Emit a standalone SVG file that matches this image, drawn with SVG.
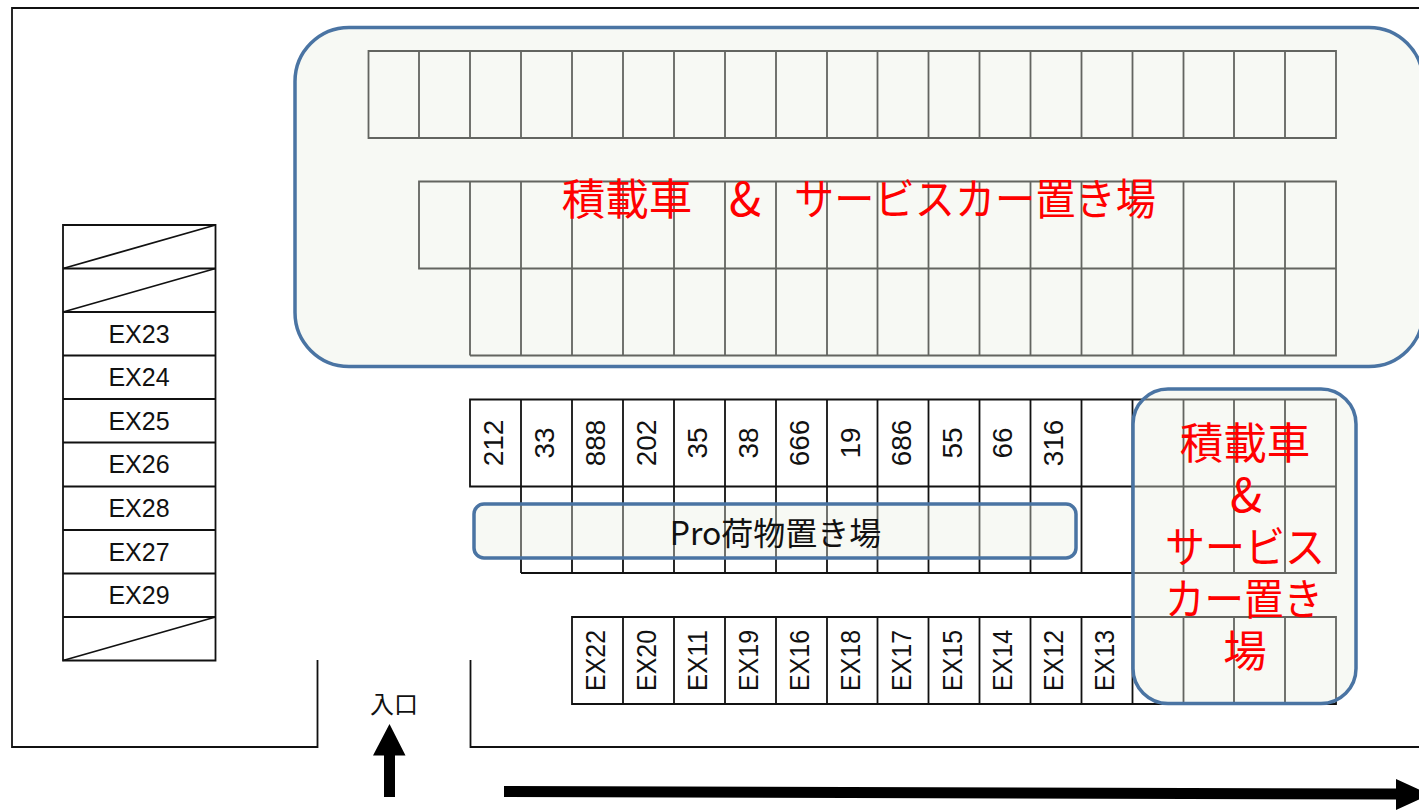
<svg xmlns="http://www.w3.org/2000/svg" width="1419" height="810" viewBox="0 0 1419 810">
<style>
text{font-family:"Noto Sans CJK JP","Liberation Sans",sans-serif;text-anchor:middle}
.ln{fill:none;stroke:#111;stroke-width:1.8}
.wall{fill:none;stroke:#111;stroke-width:1.8}
.zone{fill:#e9efe3;fill-opacity:.38;stroke:none}
.zb{fill:none;stroke:#4a74a3;stroke-width:3.500}
.lab text,.rot text{font-family:"Liberation Sans",sans-serif;fill:#111}
.lab text{font-size:25px}
.rot text{font-size:28px}
.red{fill:#f00;font-size:43.500px}
.amp{fill:#f00;font-size:47px}
</style>
<rect width="1419" height="810" fill="#fff"/>
<path id="walls" class="wall" d="M1419 8H12V747H317.500V660M470.500 660V747H1419"/>
<g id="grid" class="ln">
<path d="M368.500 51H1336V138H368.500Z M419 51V138M470 51V138M521 51V138M572 51V138M623 51V138M674 51V138M725 51V138M776 51V138M827 51V138M877.500 51V138M928.500 51V138M979.500 51V138M1030.500 51V138M1081.500 51V138M1132.500 51V138M1183.500 51V138M1234 51V138M1285 51V138"/>
<path d="M419 181.500H1336V268.500H419Z M470 181.500V355.500M521 181.500V355.500M572 181.500V355.500M623 181.500V355.500M674 181.500V355.500M725 181.500V355.500M776 181.500V355.500M827 181.500V355.500M877.500 181.500V355.500M928.500 181.500V355.500M979.500 181.500V355.500M1030.500 181.500V355.500M1081.500 181.500V355.500M1132.500 181.500V355.500M1183.500 181.500V355.500M1234 181.500V355.500M1285 181.500V355.500M470 355.500H1336V268.500"/>
<path d="M470 399.500H1336V486.500H470Z M521 399.500V573M572 399.500V573M623 399.500V573M674 399.500V573M725 399.500V573M776 399.500V573M827 399.500V573M877.500 399.500V573M928.500 399.500V573M979.500 399.500V573M1030.500 399.500V573M1081.500 399.500V573M1132.500 399.500V573M1183.500 399.500V573M1234 399.500V573M1285 399.500V573M521 573H1336V486.500"/>
<path d="M572 617H1336V704H572Z M623 617V704M674 617V704M725 617V704M776 617V704M827 617V704M877.500 617V704M928.500 617V704M979.500 617V704M1030.500 617V704M1081.500 617V704M1132.500 617V704M1183.500 617V704M1234 617V704M1285 617V704"/>
<path d="M63 225H215.500V660.500H63Z M63 268.500H215.500M63 312H215.500M63 355.500H215.500M63 399H215.500M63 442.500H215.500M63 486.500H215.500M63 530H215.500M63 573.500H215.500M63 617H215.500"/>
<path d="M63 268.500L215.500 225M63 312L215.500 268.500M63 660.500L215.500 617"/>
</g>
<g id="stalls-left" class="lab">
<text x="139" y="342.500">EX23</text>
<text x="139" y="386">EX24</text>
<text x="139" y="429.500">EX25</text>
<text x="139" y="473">EX26</text>
<text x="139" y="517">EX28</text>
<text x="139" y="560.500">EX27</text>
<text x="139" y="604">EX29</text>
</g>
<g id="stalls-numbers" class="rot">
<text transform="translate(503 443) rotate(-90)">212</text>
<text transform="translate(554 443) rotate(-90)">33</text>
<text transform="translate(605 443) rotate(-90)">888</text>
<text transform="translate(656 443) rotate(-90)">202</text>
<text transform="translate(707 443) rotate(-90)">35</text>
<text transform="translate(758 443) rotate(-90)">38</text>
<text transform="translate(809 443) rotate(-90)">666</text>
<text transform="translate(859.500 443) rotate(-90)">19</text>
<text transform="translate(910.500 443) rotate(-90)">686</text>
<text transform="translate(961.500 443) rotate(-90)">55</text>
<text transform="translate(1012 443) rotate(-90)">66</text>
<text transform="translate(1063 443) rotate(-90)">316</text>
</g>
<g id="stalls-ex" class="rot">
<text transform="translate(605 660.500) rotate(-90)" textLength="61" lengthAdjust="spacingAndGlyphs">EX22</text>
<text transform="translate(656 660.500) rotate(-90)" textLength="61" lengthAdjust="spacingAndGlyphs">EX20</text>
<text transform="translate(707 660.500) rotate(-90)" textLength="61" lengthAdjust="spacingAndGlyphs">EX11</text>
<text transform="translate(758 660.500) rotate(-90)" textLength="61" lengthAdjust="spacingAndGlyphs">EX19</text>
<text transform="translate(809 660.500) rotate(-90)" textLength="61" lengthAdjust="spacingAndGlyphs">EX16</text>
<text transform="translate(859.500 660.500) rotate(-90)" textLength="61" lengthAdjust="spacingAndGlyphs">EX18</text>
<text transform="translate(910.500 660.500) rotate(-90)" textLength="61" lengthAdjust="spacingAndGlyphs">EX17</text>
<text transform="translate(961.500 660.500) rotate(-90)" textLength="61" lengthAdjust="spacingAndGlyphs">EX15</text>
<text transform="translate(1012 660.500) rotate(-90)" textLength="61" lengthAdjust="spacingAndGlyphs">EX14</text>
<text transform="translate(1063 660.500) rotate(-90)" textLength="61" lengthAdjust="spacingAndGlyphs">EX12</text>
<text transform="translate(1114 660.500) rotate(-90)" textLength="61" lengthAdjust="spacingAndGlyphs">EX13</text>
</g>
<g id="zone-top">
<rect class="zone" x="295" y="27.500" width="1128" height="339" rx="54"/>
<rect class="zb" x="295" y="27.500" width="1128" height="339" rx="54"/>
<text class="red" x="627" y="215">積載車</text>
<text class="amp" x="745" y="216">&amp;</text>
<text class="red" x="975" y="215" textLength="362" lengthAdjust="spacingAndGlyphs">サービスカー置き場</text>
</g>
<g id="zone-pro">
<rect class="zone" x="474" y="504" width="602" height="54" rx="10"/>
<rect class="zb" x="474" y="504" width="602" height="54" rx="10"/>
<text x="775.500" y="545" font-size="32" fill="#111">Pro荷物置き場</text>
</g>
<g id="zone-right">
<rect class="zone" x="1133" y="389" width="223" height="314.500" rx="35"/>
<rect class="zb" x="1133" y="389" width="223" height="314.500" rx="35"/>
<text class="red" x="1245" y="459">積載車</text>
<text class="amp" x="1246" y="512">&amp;</text>
<text class="red" x="1245" y="563" textLength="160" lengthAdjust="spacingAndGlyphs">サービス</text>
<text class="red" x="1244" y="615" textLength="158" lengthAdjust="spacingAndGlyphs">カー置き</text>
<text class="red" x="1245" y="667">場</text>
</g>
<g id="entrance">
<text x="394" y="713" font-size="24" fill="#111">入口</text>
<path d="M384 797V755.500H373L389.500 724L405.500 755.500H395V797Z" fill="#000"/>
</g>
<path id="road-arrow" d="M504 786L1396 788.500V779L1430 794.500L1396 810V799.500L504 797Z" fill="#000"/>
</svg>
